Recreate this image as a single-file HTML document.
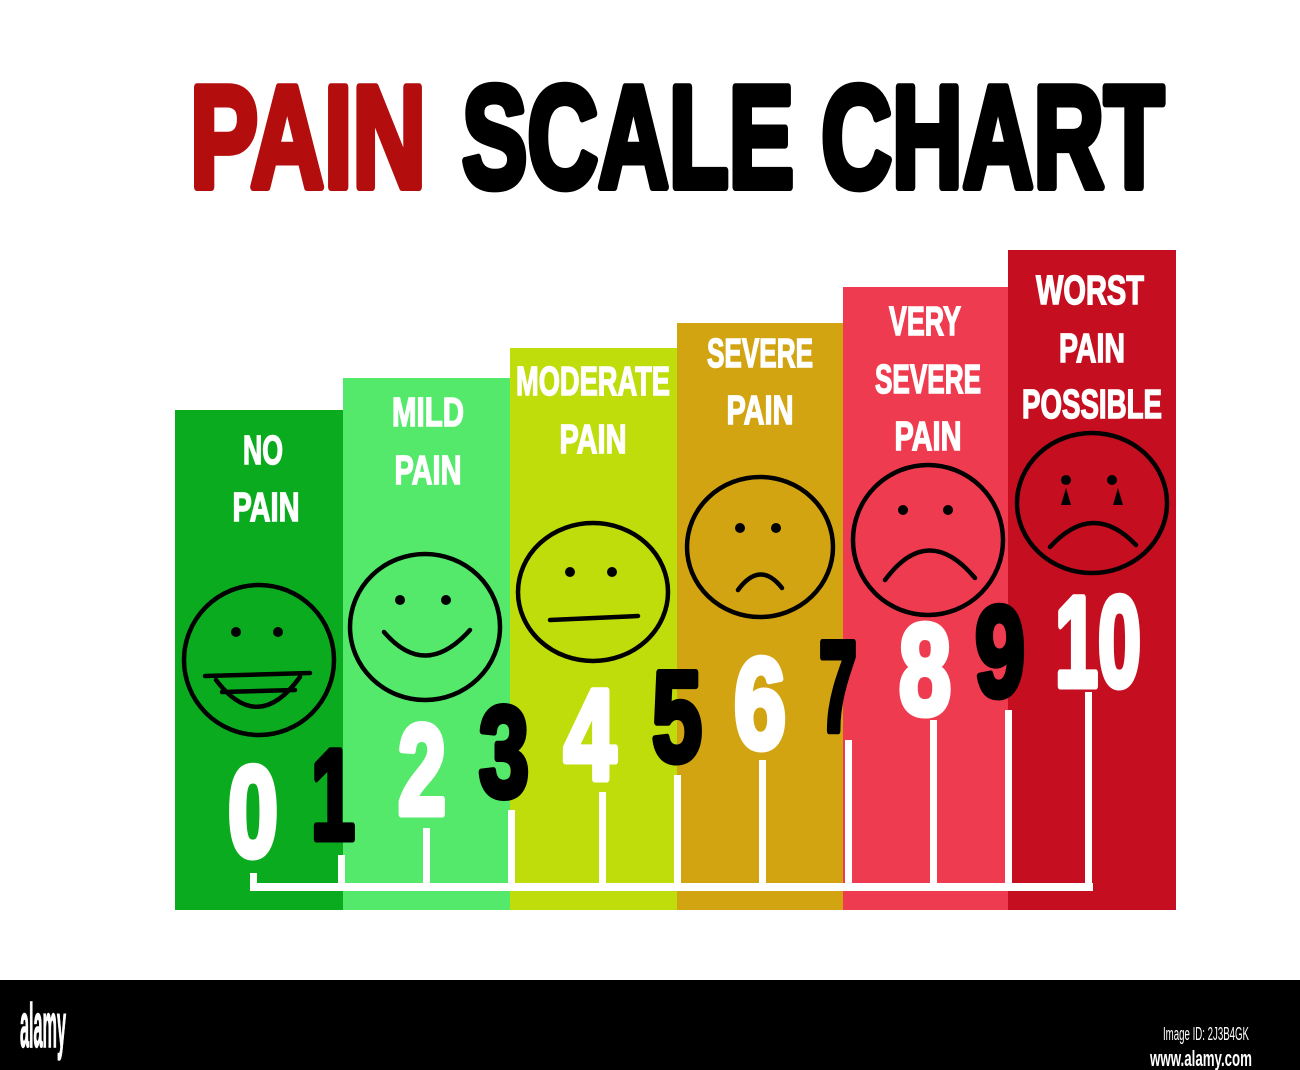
<!DOCTYPE html>
<html><head><meta charset="utf-8"><style>
html,body{margin:0;padding:0;background:#fff;width:1300px;height:1070px;overflow:hidden}
svg{display:block}
text{font-family:"Liberation Sans Narrow","Liberation Sans",sans-serif;font-weight:bold}
</style></head><body>
<svg width="1300" height="1070" viewBox="0 0 1300 1070" xmlns="http://www.w3.org/2000/svg">
<rect width="1300" height="1070" fill="#fff"/>
<!-- title -->
<text x="190" y="187" font-size="145" fill="#b30d0d" stroke="#b30d0d" stroke-width="8" stroke-linejoin="round" textLength="236" lengthAdjust="spacingAndGlyphs">PAIN</text>
<text x="462" y="187" font-size="145" fill="#000" stroke="#000" stroke-width="8" stroke-linejoin="round" textLength="702" lengthAdjust="spacingAndGlyphs">SCALE CHART</text>
<!-- bars -->
<rect x="175" y="410" width="169" height="500" fill="#0bab1f"/>
<rect x="343" y="378" width="168" height="532" fill="#54e96a"/>
<rect x="510" y="348" width="168" height="562" fill="#bfdc0b"/>
<rect x="677" y="323" width="167" height="587" fill="#d2a412"/>
<rect x="843" y="287" width="166" height="623" fill="#ef3b4f"/>
<rect x="1008" y="250" width="168" height="660" fill="#c50f20"/>
<!-- labels -->
<g fill="#fff" stroke="#fff" stroke-width="1.5" font-size="41" text-anchor="middle" lengthAdjust="spacingAndGlyphs">
<text x="263" y="464" textLength="40" lengthAdjust="spacingAndGlyphs">NO</text><text x="266" y="521" textLength="67" lengthAdjust="spacingAndGlyphs">PAIN</text>
<text x="428" y="426" textLength="72" lengthAdjust="spacingAndGlyphs">MILD</text><text x="428" y="484" textLength="67" lengthAdjust="spacingAndGlyphs">PAIN</text>
<text x="593" y="395" textLength="154" lengthAdjust="spacingAndGlyphs">MODERATE</text><text x="593" y="453" textLength="67" lengthAdjust="spacingAndGlyphs">PAIN</text>
<text x="760" y="367" textLength="106" lengthAdjust="spacingAndGlyphs">SEVERE</text><text x="760" y="424" textLength="67" lengthAdjust="spacingAndGlyphs">PAIN</text>
<text x="925" y="335" textLength="72" lengthAdjust="spacingAndGlyphs">VERY</text><text x="928" y="393" textLength="106" lengthAdjust="spacingAndGlyphs">SEVERE</text><text x="928" y="450" textLength="67" lengthAdjust="spacingAndGlyphs">PAIN</text>
<text x="1090" y="304" textLength="108" lengthAdjust="spacingAndGlyphs">WORST</text><text x="1092" y="362" textLength="66" lengthAdjust="spacingAndGlyphs">PAIN</text><text x="1092" y="418" textLength="140" lengthAdjust="spacingAndGlyphs">POSSIBLE</text>
</g>
<!-- faces -->
<g fill="none" stroke="#000" stroke-width="4.5" stroke-linecap="round">
<ellipse cx="259" cy="660" rx="75" ry="75"/>
<path d="M205 676 L310 673"/><path d="M216 680 Q258 735 300 677"/><path d="M222 692 L295 690"/>
<ellipse cx="425" cy="627" rx="75" ry="73"/>
<path d="M384 632 Q425 680 470 630"/>
<ellipse cx="593" cy="592" rx="75" ry="69"/>
<path d="M550 620 L638 616"/>
<ellipse cx="760" cy="547" rx="73" ry="70"/>
<path d="M738 590 Q760 560 782 588"/>
<ellipse cx="928" cy="540" rx="75" ry="75"/>
<path d="M885 580 Q928 522 975 578"/>
<ellipse cx="1092" cy="503" rx="75" ry="70"/>
<path d="M1050 547 Q1093 500 1136 545"/>
</g>
<g fill="#000">
<circle cx="236" cy="632" r="5"/><circle cx="278" cy="632" r="5"/>
<circle cx="400" cy="600" r="5"/><circle cx="446" cy="600" r="5"/>
<circle cx="570" cy="572" r="5"/><circle cx="612" cy="572" r="5"/>
<circle cx="740" cy="528" r="5"/><circle cx="776" cy="528" r="5"/>
<circle cx="903" cy="510" r="5"/><circle cx="948" cy="510" r="5"/>
<circle cx="1066" cy="480" r="5"/><circle cx="1112" cy="480" r="5"/>
<path d="M1066 488 L1061 505 L1071 505Z"/><path d="M1118 488 L1113 505 L1123 505Z"/>
</g>
<!-- ticks -->
<g fill="#fff">
<rect x="250" y="883" width="843" height="8"/>
<rect x="250" y="873" width="7" height="18"/>
<rect x="338" y="855" width="7" height="36"/>
<rect x="423" y="828" width="7" height="63"/>
<rect x="508" y="810" width="7" height="81"/>
<rect x="599" y="792" width="7" height="99"/>
<rect x="674" y="775" width="7" height="116"/>
<rect x="759" y="760" width="7" height="131"/>
<rect x="845" y="740" width="7" height="151"/>
<rect x="930" y="720" width="7" height="171"/>
<rect x="1005" y="710" width="7" height="181"/>
<rect x="1085" y="692" width="7" height="199"/>
</g>
<!-- numbers -->
<g font-size="128" text-anchor="middle" stroke-width="7" stroke-linejoin="round">
<text x="253" y="856" fill="#fff" stroke="#fff" textLength="50" lengthAdjust="spacingAndGlyphs">0</text>
<text x="333" y="839" fill="#000" stroke="#000" textLength="44" lengthAdjust="spacingAndGlyphs">1</text>
<text x="422" y="814" fill="#fff" stroke="#fff" textLength="48" lengthAdjust="spacingAndGlyphs">2</text>
<text x="504" y="796" fill="#000" stroke="#000" textLength="50" lengthAdjust="spacingAndGlyphs">3</text>
<text x="590" y="779" fill="#fff" stroke="#fff" textLength="52" lengthAdjust="spacingAndGlyphs">4</text>
<text x="677" y="761" fill="#000" stroke="#000" textLength="50" lengthAdjust="spacingAndGlyphs">5</text>
<text x="760" y="748" fill="#fff" stroke="#fff" textLength="52" lengthAdjust="spacingAndGlyphs">6</text>
<text x="838" y="731" fill="#000" stroke="#000" textLength="38" lengthAdjust="spacingAndGlyphs">7</text>
<text x="925" y="714" fill="#fff" stroke="#fff" textLength="52" lengthAdjust="spacingAndGlyphs">8</text>
<text x="1000" y="696" fill="#000" stroke="#000" textLength="50" lengthAdjust="spacingAndGlyphs">9</text>
<text x="1098" y="686" fill="#fff" stroke="#fff" textLength="86" lengthAdjust="spacingAndGlyphs">10</text>
</g>
<!-- footer -->
<rect x="0" y="980" width="1300" height="90" fill="#000"/>
<text x="20" y="1047" font-size="62" fill="#fff" stroke="#fff" stroke-width="1.5" textLength="46" lengthAdjust="spacingAndGlyphs">alamy</text>
<text x="1163" y="1040" font-size="18" fill="#fff" style="font-weight:normal" textLength="86" lengthAdjust="spacingAndGlyphs">Image ID: 2J3B4GK</text>
<text x="1150" y="1066" font-size="22" fill="#fff" textLength="102" lengthAdjust="spacingAndGlyphs">www.alamy.com</text>
</svg>
</body></html>
